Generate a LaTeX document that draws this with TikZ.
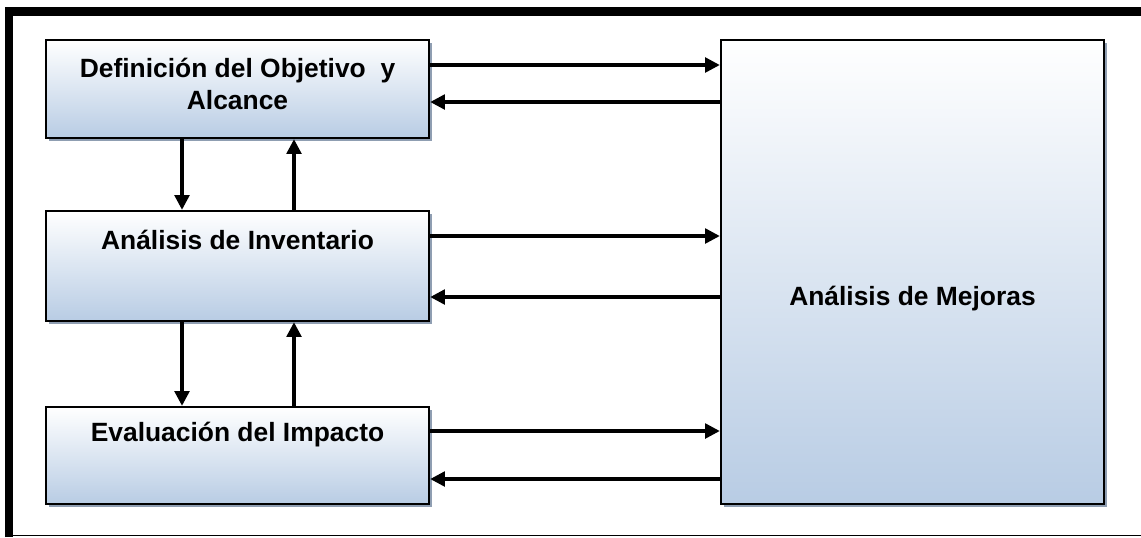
\documentclass[tikz,border=0pt]{standalone}
\usepackage{fontspec}
\setmainfont{Liberation Sans}
\usetikzlibrary{arrows.meta,shadows}
\definecolor{boxblue}{RGB}{184,204,228}
\definecolor{shadowgray}{RGB}{143,158,178}
\tikzset{
    stage/.style={draw, line width=1.8pt, top color=white, bottom color=boxblue, minimum width=287.25pt,
        drop shadow={shadow xshift=2.25pt, shadow yshift=-2.25pt, fill=shadowgray, opacity=1}},
    lbl/.style={font=\bfseries\fontsize{19.8}{24}\selectfont, align=center},
    flow/.style={line width=2.4pt, -{Triangle[length=11pt,width=11pt]}}
}

\begin{document}
\begin{tikzpicture}[x=0.75pt,y=-0.75pt]
        \useasboundingbox (0,0) rectangle (1141,537);
        \draw[line width=6.4pt] (9,537) -- (9,11.5) -- (1141,11.5);
        \draw[line width=1.1pt] (9,535.5) -- (1141,535.5);
        \node[stage, minimum height=73.5pt] (def) at (237.5,89) {};
        \node[stage, minimum height=82.5pt] (inv) at (237.5,266) {};
        \node[stage, minimum height=72.75pt] (eva) at (237.5,455.5) {};
        \node[stage, minimum height=348pt] (mej) at (912.5,272) {};
        \node[lbl] (tdef) at (237.5,84) {Definición del Objetivo \ y\\Alcance};
        \node[lbl] (tinv) at (237.5,240) {Análisis de Inventario};
        \node[lbl] (teva) at (237.5,435) {Evaluación del Impacto};
        \node[lbl] (tmej) at (912.5,299) {Análisis de Mejoras};
        \foreach \n/\r/\l in {def/-24/13, inv/-30/31, eva/-24.5/23.5}{
            \path (\n.east) ++(0,\r) coordinate (r\n);
            \path (\n.east) ++(0,\l) coordinate (l\n);
            \draw[flow] (r\n) -- (r\n -| mej.west);
            \draw[flow] (l\n -| mej.west) -- (l\n);
        }
        \foreach \a/\b in {def/inv, inv/eva}{
            \path (\a.south) ++(-55.5,0) coordinate (d\a);
            \path (\b.north) ++(56.5,0) coordinate (u\a);
            \draw[flow] (d\a) -- (d\a |- \b.north);
            \draw[flow] (u\a) -- (u\a |- \a.south);
        }
    \end{tikzpicture}
\end{document}
